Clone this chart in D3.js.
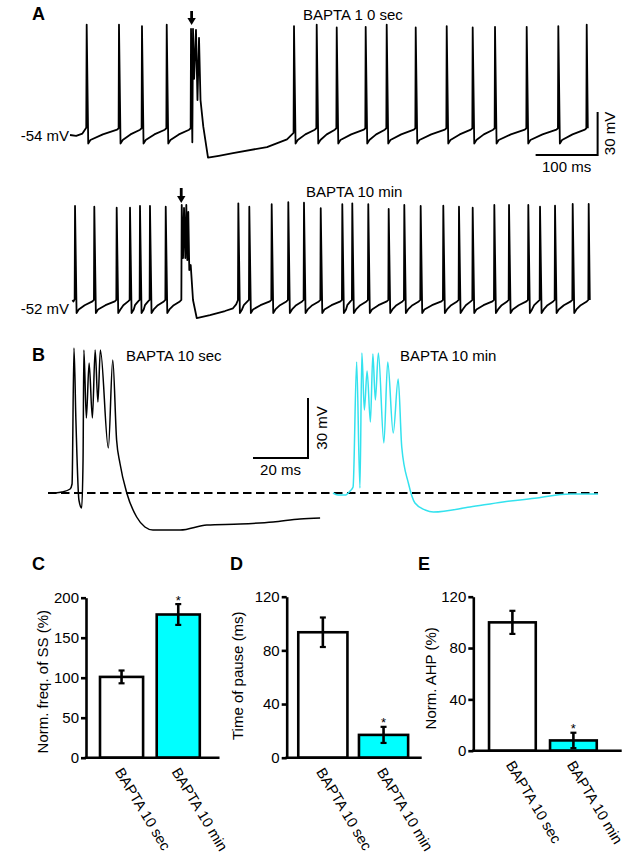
<!DOCTYPE html>
<html><head><meta charset="utf-8">
<script src="https://cdn.jsdelivr.net/npm/d3@7"></script>
<style>
body{margin:0;background:#fff}
text{font-family:"Liberation Sans",Arial,Helvetica,sans-serif;fill:#000}
</style>
</head><body>
<svg id="fig" width="638" height="867"></svg>
<script>
// ================= DATA =================
// Panel A, top trace (BAPTA 10 sec): times in ms from trace start, voltages in mV
const topSpikeTimesPre  = [26.9, 79, 116.1, 156];
const topSpikePeaksPre  = [23, 23, 22, 23];
const topSpikeTimesPost = [361.3, 397.9, 430.2, 476.9, 510.8, 557.6, 607.6, 649.5, 685.5, 736.6, 787.6, 833.4];
const topSpikePeaksPost = [22, 23, 21, 21.5, 23, 21, 22, 21, 21.5, 21.5, 22, 23];
const topStart = [[0, -54], [10, -54.6], [20, -53], [26.2, -49]];
const topBurst = [[195.2, 20.1], [197.3, -59.1], [198.4, 20.1], [200.2, -14.8], [203.2, 19.4], [205.6, -29.6],
                  [208.1, 13.8], [210.5, -29.6], [215, -48.2], [222.6, -69.8], [240, -68.5], [262.9, -66.6],
                  [317.7, -62.4], [350, -57], [360.6, -52.5]];
const topTrough = -60, topThreshold = -49.3;

// Panel A, bottom trace (BAPTA 10 min)
const botSpikeTimesPre  = [8.1, 39.2, 75.3, 96.8, 112.9, 129, 154.4];
const botSpikePeaksPre  = [19.2, 18.7, 18, 18, 19.2, 19.2, 18.7];
const botSpikeTimesPost = [271.5, 289.2, 325.3, 352.1, 377.4, 404.4, 439.2, 455.3, 481.1, 514, 539.2, 565.6,
                           602.1, 627.4, 649.5, 684.4, 708.1, 739.2, 758.1, 782.3, 810.8, 836.6];
const botSpikePeaksPost = [21, 18.7, 20.4, 21.8, 21.5, 17.6, 20.4, 21, 20.4, 17.1, 19.9, 19.2,
                           19.4, 18.7, 18, 19.9, 19.9, 19.9, 18.7, 19.4, 20.6, 20.6];
const botStart = [[4, -46.4], [5.5, -47.5], [7.5, -46]];
const botBurst = [[180.2, 19.9], [182.3, -17.1], [183.9, 17.8], [186, -17.1], [187.6, 19.9], [189.2, -18.5],
                  [190.8, 15], [192.4, -25.5], [194.7, -22], [198.4, -46.4], [204.4, -59], [225.8, -56.9],
                  [250, -54.1], [262.9, -52.2], [268, -49.5], [270.9, -46.4]];
const botTrough = -55.5, botThreshold = -46.4;

// Panel B: times in ms from trace start, voltage in mV relative to baseline (dashed line)
const burstB10sec = [[0, 0], [2.5, 0.5], [5.5, 2], [6.2, 4.5], [6.9, 72.5], [7.6, 36.5], [8.7, -3.5], [9.7, -7.5],
  [10.2, 16.5], [10.5, 71.5], [11.4, 37.5], [12.4, 65], [13.6, 37.5], [14.6, 71.5], [15.6, 45.5], [16.5, 71.5],
  [19.4, 22.5], [21, 66.5], [22.4, 26.5], [23.6, 15], [26.1, 0], [29.7, -12], [32.7, -17], [35.6, -18.5],
  [45.5, -18.5], [55.2, -16], [67.3, -15.5], [79.3, -14.5], [89.1, -13], [96.4, -12.5]];
const burstB10min = [[0, 0], [1.8, -1], [4.4, -1], [6.2, 1], [7.3, 3], [8.6, 65.5], [9.8, 2.5], [10.5, 70],
  [11.4, 41.5], [12.4, 61], [13.6, 35.5], [14.5, 69.5], [15.4, 46.5], [16.5, 70], [18.5, 25], [19.9, 65.5],
  [21.9, 30], [23.7, 57], [25, 23], [27.4, 5], [29.8, -5], [33.5, -8.5], [36.5, -9.5], [49.8, -7],
  [61.8, -4.5], [74.2, -2.5], [86.2, -0.5], [96.4, -0.5]];

// Panels C-E: bar charts
const barCategories = ["BAPTA 10 sec", "BAPTA 10 min"];
const freqMeans  = [101, 179];  const freqErrors  = [8, 13];
const pauseMeans = [93.5, 17];  const pauseErrors = [11, 6];
const ahpMeans   = [100, 8];    const ahpErrors   = [9, 6];
const freqTicks  = [0, 50, 100, 150, 200];
const pauseTicks = [0, 40, 80, 120];
const ahpTicks   = [0, 40, 80, 120];
const significant = [false, true];

// ================= DRAWING =================
const svg = d3.select("#fig");
const CYAN_BAR = "#00ffff", CYAN_TRACE = "#33e2ee";

function isi(t0, t1, tr, th) {
  return [[t0 + 2.5, tr], [t0 + 6, tr + 2.5], [(t0 + t1) / 2, tr + 0.6 * (th - tr)], [t1 - 3, th - 1], [t1 - 0.6, th]];
}
function buildTrace(start, preT, preP, burst, postT, postP, tr, th) {
  const pts = start.slice();
  preT.forEach((t, i) => {
    pts.push([t, preP[i]]);
    const next = i < preT.length - 1 ? preT[i + 1] : burst[0][0];
    pts.push(...isi(t, next, tr, th));
  });
  pts.push(...burst);
  postT.forEach((t, i) => {
    pts.push([t, postP[i]]);
    if (i < postT.length - 1) pts.push(...isi(t, postT[i + 1], tr, th));
    else pts.push([t + 1.8, th]);
  });
  return pts;
}

// ---------- Panel A ----------
const xA = d3.scaleLinear().domain([0, 100]).range([70, 132]);
const yTop = d3.scaleLinear().domain([-54, -24]).range([135, 92]);
const yBot = d3.scaleLinear().domain([-52, -22]).range([308, 265]);

const topPts = buildTrace(topStart, topSpikeTimesPre, topSpikePeaksPre, topBurst, topSpikeTimesPost, topSpikePeaksPost, topTrough, topThreshold);
const botPts = buildTrace(botStart, botSpikeTimesPre, botSpikePeaksPre, botBurst, botSpikeTimesPost, botSpikePeaksPost, botTrough, botThreshold);

svg.append("path").datum(topPts)
  .attr("d", d3.line().x(d => xA(d[0])).y(d => yTop(d[1])))
  .attr("fill", "none").attr("stroke", "#000").attr("stroke-width", 1.8).attr("stroke-linejoin", "round");
svg.append("path").datum(botPts)
  .attr("d", d3.line().x(d => xA(d[0])).y(d => yBot(d[1])))
  .attr("fill", "none").attr("stroke", "#000").attr("stroke-width", 1.8).attr("stroke-linejoin", "round");

function arrow(x, yTopPx, yBotPx) {
  const headH = 7, headW = 4.2;
  svg.append("line").attr("x1", x).attr("x2", x).attr("y1", yTopPx).attr("y2", yBotPx - headH + 1)
    .attr("stroke", "#000").attr("stroke-width", 2.8);
  svg.append("path").attr("d", `M${x - headW},${yBotPx - headH}L${x + headW},${yBotPx - headH}L${x},${yBotPx}Z`).attr("fill", "#000");
}
arrow(xA(topBurst[0][0]) + 0.6, 11, 25);
arrow(xA(botBurst[0][0]) - 0.5, 188, 203);

svg.append("text").attr("x", 32).attr("y", 20).attr("font-size", 18).attr("font-weight", "bold").text("A");
svg.append("text").attr("x", 303).attr("y", 20).attr("font-size", 15).text("BAPTA 1 0 sec");
svg.append("text").attr("x", 306).attr("y", 196.5).attr("font-size", 15).text("BAPTA 10 min");
svg.append("text").attr("x", 69).attr("y", 140.5).attr("font-size", 15).attr("text-anchor", "end").text("-54 mV");
svg.append("text").attr("x", 69).attr("y", 313.5).attr("font-size", 15).attr("text-anchor", "end").text("-52 mV");

// A scale bar: 100 ms, 30 mV
const sbY = 155;
const sbX1 = xA(751), sbX2 = xA(851);
const sbH = yTop(-54) - yTop(-24);
svg.append("path").attr("d", `M${sbX1},${sbY}H${sbX2}V${sbY - sbH}`)
  .attr("fill", "none").attr("stroke", "#000").attr("stroke-width", 2);
svg.append("text").attr("x", (sbX1 + sbX2) / 2).attr("y", 171.5).attr("font-size", 15).attr("text-anchor", "middle").text("100 ms");
svg.append("text").attr("transform", `translate(615,${sbY - sbH / 2}) rotate(-90)`).attr("font-size", 15).attr("text-anchor", "middle").text("30 mV");

// ---------- Panel B ----------
const xB1 = d3.scaleLinear().domain([0, 20]).range([55, 110]);
const xB2 = d3.scaleLinear().domain([0, 20]).range([333, 388]);
const yB = d3.scaleLinear().domain([0, 30]).range([493, 433]);

svg.append("line").attr("x1", 48).attr("x2", 598).attr("y1", yB(0)).attr("y2", yB(0))
  .attr("stroke", "#000").attr("stroke-width", 1.8).attr("stroke-dasharray", "8.5,4.5");
svg.append("path").datum(burstB10sec)
  .attr("d", d3.line().curve(d3.curveMonotoneX).x(d => xB1(d[0])).y(d => yB(d[1])))
  .attr("fill", "none").attr("stroke", "#000").attr("stroke-width", 1.5);
svg.append("path").datum(burstB10min)
  .attr("d", d3.line().curve(d3.curveMonotoneX).x(d => xB2(d[0])).y(d => yB(d[1])))
  .attr("fill", "none").attr("stroke", CYAN_TRACE).attr("stroke-width", 1.5);

svg.append("text").attr("x", 32).attr("y", 361).attr("font-size", 18).attr("font-weight", "bold").text("B");
svg.append("text").attr("x", 126).attr("y", 360.5).attr("font-size", 15).text("BAPTA 10 sec");
svg.append("text").attr("x", 400).attr("y", 360.5).attr("font-size", 15).text("BAPTA 10 min");

const sbBx1 = xB1(72), sbBx2 = xB1(92);
const sbBy = yB(17.5), sbBy2 = yB(47.5);
svg.append("path").attr("d", `M${sbBx1},${sbBy}H${sbBx2}V${sbBy2}`)
  .attr("fill", "none").attr("stroke", "#000").attr("stroke-width", 2);
svg.append("text").attr("x", (sbBx1 + sbBx2) / 2).attr("y", 475).attr("font-size", 15).attr("text-anchor", "middle").text("20 ms");
svg.append("text").attr("transform", `translate(326.5,${(sbBy + sbBy2) / 2}) rotate(-90)`).attr("font-size", 15).attr("text-anchor", "middle").text("30 mV");

// ---------- Panels C-E ----------
function barPanel(cfg) {
  const g = svg.append("g");
  const y = d3.scaleLinear().domain(cfg.domain).range([cfg.y0, cfg.y1]);
  const x = d3.scaleBand().domain(barCategories).range(cfg.xr).paddingInner(cfg.pad).paddingOuter(cfg.pad / 2);
  g.selectAll("rect.bar").data(barCategories).enter().append("rect")
    .attr("x", d => x(d)).attr("width", x.bandwidth())
    .attr("y", (d, i) => y(cfg.means[i])).attr("height", (d, i) => y(0) - y(cfg.means[i]))
    .attr("fill", (d, i) => i === 0 ? "#fff" : CYAN_BAR).attr("stroke", "#000").attr("stroke-width", 2.6);
  barCategories.forEach((c, i) => {
    const cx = x(c) + x.bandwidth() / 2;
    const lo = y(cfg.means[i] - cfg.errs[i]), hi = y(cfg.means[i] + cfg.errs[i]);
    g.append("line").attr("x1", cx).attr("x2", cx).attr("y1", lo).attr("y2", hi).attr("stroke", "#000").attr("stroke-width", 2.6);
    [lo, hi].forEach(v => g.append("line").attr("x1", cx - 3).attr("x2", cx + 3).attr("y1", v).attr("y2", v).attr("stroke", "#000").attr("stroke-width", 2.2));
    if (significant[i]) g.append("text").attr("x", cx).attr("y", hi + 0.5).attr("font-size", 13).attr("text-anchor", "middle").text("*");
    g.append("text").attr("transform", `translate(${cx - 7},${cfg.y0 + 14}) rotate(59)`)
      .attr("font-size", 14.6).text(c);
  });
  const ax = g.append("g").attr("transform", `translate(${cfg.ax},0)`)
    .call(d3.axisLeft(y).tickValues(cfg.ticks).tickSize(5).tickPadding(2).tickSizeOuter(0));
  ax.select(".domain").attr("stroke", "#000").attr("stroke-width", 2.6);
  ax.selectAll(".tick line").attr("stroke", "#000").attr("stroke-width", 2.6);
  ax.selectAll(".tick text").attr("font-size", 15).attr("fill", "#000").attr("font-family", "Liberation Sans, Arial, sans-serif");
  g.append("line").attr("x1", cfg.ax - 1.3).attr("x2", cfg.axEnd).attr("y1", y(0)).attr("y2", y(0)).attr("stroke", "#000").attr("stroke-width", 2.6);
  g.append("text").attr("transform", `translate(${cfg.labX},${cfg.labY}) rotate(-90)`)
    .attr("font-size", 15).attr("text-anchor", "middle").text(cfg.label);
  g.append("text").attr("x", cfg.letterX).attr("y", 570).attr("font-size", 18).attr("font-weight", "bold").text(cfg.letter);
}

barPanel({ letter: "C", letterX: 32, domain: [0, 200], y0: 757.7, y1: 597.7, xr: [93.2, 206.6], pad: 0.24,
  ax: 86, axEnd: 219.5, ticks: freqTicks, means: freqMeans, errs: freqErrors,
  label: "Norm. freq. of SS (%)", labX: 48, labY: 681.7 });
barPanel({ letter: "D", letterX: 230, domain: [0, 120], y0: 757.7, y1: 596.7, xr: [292.5, 413.9], pad: 0.19,
  ax: 286.7, axEnd: 421.7, ticks: pauseTicks, means: pauseMeans, errs: pauseErrors,
  label: "Time of pause (ms)", labX: 243, labY: 675.7 });
barPanel({ letter: "E", letterX: 418, domain: [0, 120], y0: 750.7, y1: 596.7, xr: [481.9, 603.9], pad: 0.234,
  ax: 473.3, axEnd: 621.7, ticks: ahpTicks, means: ahpMeans, errs: ahpErrors,
  label: "Norm. AHP (%)", labX: 436, labY: 678.3 });
</script>
</body></html>
